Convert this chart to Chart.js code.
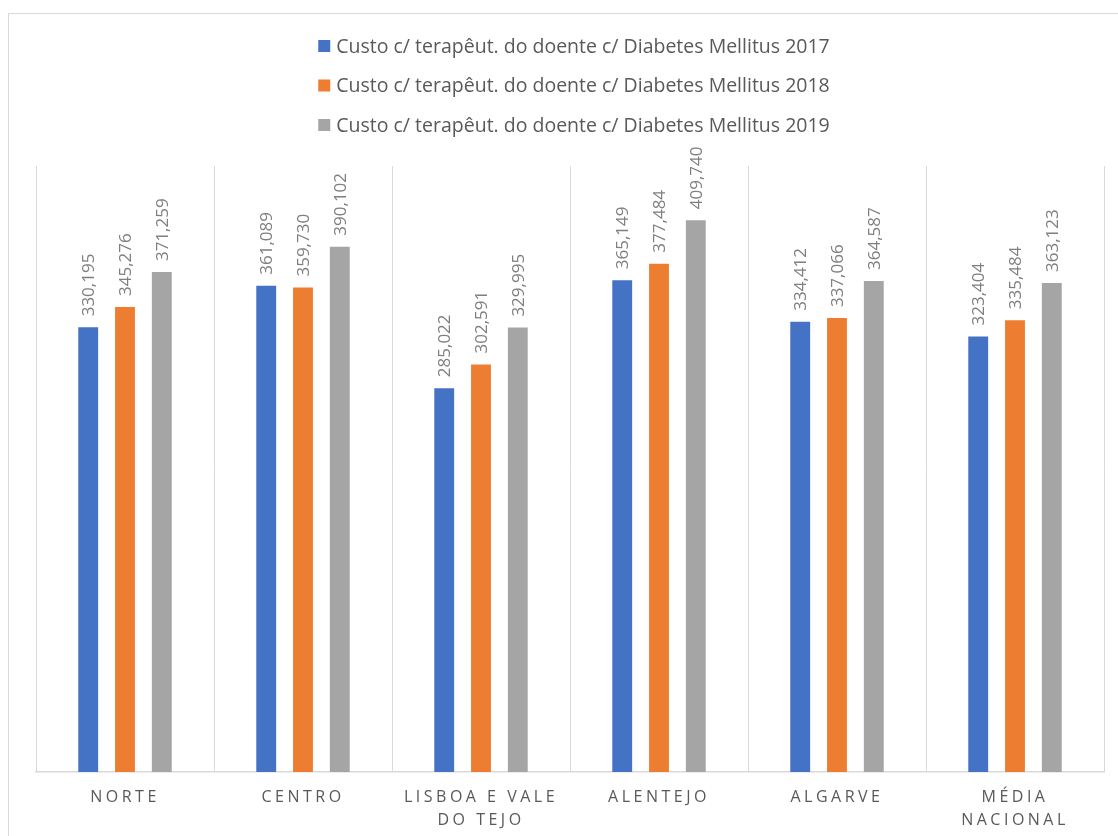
<!DOCTYPE html>
<html lang="pt">
<head>
<meta charset="utf-8">
<script src="https://cdn.jsdelivr.net/npm/chart.js@4/dist/chart.umd.min.js"></script>
<style>
  html, body { margin: 0; padding: 0; background: #fff; }
  canvas { display: block; }
</style>
</head>
<body>
<canvas id="c" width="1118" height="836"></canvas>
<script>
// regiões (eixo x); as longas partem em duas linhas como no original
const regioes = ['NORTE', 'CENTRO', ['LISBOA E VALE', 'DO TEJO'], 'ALENTEJO', 'ALGARVE', ['MÉDIA', 'NACIONAL']];

const rotulosSerie = [
  'Custo c/ terapêut. do doente c/ Diabetes Mellitus 2017',
  'Custo c/ terapêut. do doente c/ Diabetes Mellitus 2018',
  'Custo c/ terapêut. do doente c/ Diabetes Mellitus 2019',
];

const custo2017 = [330.195, 361.089, 285.022, 365.149, 334.412, 323.404];
const custo2018 = [345.276, 359.730, 302.591, 377.484, 337.066, 335.484];
const custo2019 = [371.259, 390.102, 329.995, 409.740, 364.587, 363.123];

const cores = ['#4472C4', '#ED7D31', '#A5A5A5'];
const FONTE = "'Open Sans', 'Liberation Sans', sans-serif";
const CINZA_TEXTO = '#595959';

// "330.195" -> "330,195" (vírgula decimal)
const fmt = (v) => v.toFixed(3).replace('.', ',');

// moldura cinza clara à volta do gráfico
const moldura = {
  id: 'moldura',
  beforeDraw(chart) {
    const ctx = chart.ctx;
    ctx.save();
    ctx.strokeStyle = '#d9d9d9';
    ctx.lineWidth = 1;
    ctx.strokeRect(8.5, 13.5, 1300, 1000);
    ctx.restore();
    // espaçamento entre letras só para os rótulos do eixo
    ctx.letterSpacing = '3.5px';
  },
  beforeDatasetsDraw(chart) {
    chart.ctx.letterSpacing = '0px';
  },
};

// rótulos de dados verticais por cima de cada barra
const rotulosDados = {
  id: 'rotulosDados',
  afterDatasetsDraw(chart) {
    const ctx = chart.ctx;
    ctx.save();
    ctx.font = `17px ${FONTE}`;
    ctx.fillStyle = '#7f7f7f';
    ctx.textAlign = 'left';
    ctx.textBaseline = 'middle';
    chart.data.datasets.forEach((ds, i) => {
      chart.getDatasetMeta(i).data.forEach((bar, j) => {
        ctx.save();
        ctx.translate(bar.x, bar.y - 11);
        ctx.rotate(-Math.PI / 2);
        ctx.fillText(fmt(ds.data[j]), 0, 1);
        ctx.restore();
      });
    });
    ctx.restore();
  },
};

// legenda empilhada na vertical, centrada
const legendaVertical = {
  id: 'legendaVertical',
  afterDraw(chart) {
    const ctx = chart.ctx;
    ctx.save();
    ctx.letterSpacing = '0px';
    ctx.font = `19.5px ${FONTE}`;
    ctx.textBaseline = 'middle';
    ctx.textAlign = 'left';
    const cx = 574;
    chart.data.datasets.forEach((ds, i) => {
      const y = 46 + i * 39.5;
      const tw = ctx.measureText(ds.label).width;
      const x0 = cx - (12 + 6 + tw) / 2;
      ctx.fillStyle = ds.backgroundColor;
      ctx.fillRect(x0, y - 6, 12, 12);
      ctx.fillStyle = CINZA_TEXTO;
      ctx.fillText(ds.label, x0 + 18, y + 1);
    });
    ctx.restore();
  },
};

new Chart(document.getElementById('c'), {
  type: 'bar',
  data: {
    labels: regioes,
    datasets: [custo2017, custo2018, custo2019].map((d, i) => ({
      label: rotulosSerie[i],
      data: d,
      backgroundColor: cores[i],
      borderWidth: 0,
      categoryPercentage: 0.62,
      barPercentage: 0.54,
    })),
  },
  options: {
    responsive: false,
    animation: false,
    layout: { padding: { left: 36, right: 14, top: 166, bottom: 0 } },
    plugins: {
      legend: { display: false },
      tooltip: { enabled: false },
    },
    scales: {
      x: {
        grid: { color: '#d9d9d9', lineWidth: 1, drawTicks: false, offset: true },
        border: { color: '#d9d9d9', width: 1.5 },
        ticks: {
          color: CINZA_TEXTO,
          font: { family: FONTE, size: 16, lineHeight: 1.45 },
          padding: 14,
          maxRotation: 0,
          autoSkip: false,
        },
        afterFit(s) { s.height = 64; },
      },
      y: {
        display: false,
        min: 0,
        max: 450,
      },
    },
  },
  plugins: [moldura, rotulosDados, legendaVertical],
});
</script>
</body>
</html>
